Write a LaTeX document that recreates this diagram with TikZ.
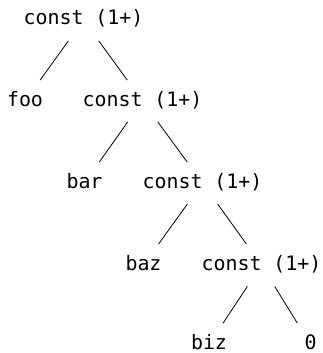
\documentclass[tikz,border=0pt]{standalone}
\usepackage{fontspec}
\newfontfamily\treefont{DejaVu Sans Mono}
\begin{document}
\begin{tikzpicture}[x=1pt,y=-1pt,
  tn/.style={anchor=base,font=\treefont\fontsize{19.9}{24}\selectfont,text height=12pt,text depth=2pt,inner ysep=2pt,inner xsep=2pt},
  edge/.style={draw=black,line width=0.8pt,shorten <=14.5pt,shorten >=14.5pt}]
\useasboundingbox (0,0) rectangle (322,353);
\node[tn] (r) at (83.5,25) {const (1+)};
\node[tn] (foo) at (25,106) {foo};
\node[tn] (c2) at (142.5,106) {const (1+)};
\node[tn] (bar) at (84.5,188) {bar};
\node[tn] (c3) at (202.5,188) {const (1+)};
\node[tn] (baz) at (143.5,270) {baz};
\node[tn] (c4) at (261.5,270) {const (1+)};
\node[tn] (biz) at (209,349.5) {biz};
\node[tn] (z) at (310.5,349.5) {0};
\draw[edge] (r) -- (foo);
\draw[edge] (r) -- (c2);
\draw[edge] (c2) -- (bar);
\draw[edge] (c2) -- (c3);
\draw[edge] (c3) -- (baz);
\draw[edge] (c3) -- (c4);
\draw[edge] (c4) -- (biz);
\draw[edge] (c4) -- (z);
\end{tikzpicture}
\end{document}
